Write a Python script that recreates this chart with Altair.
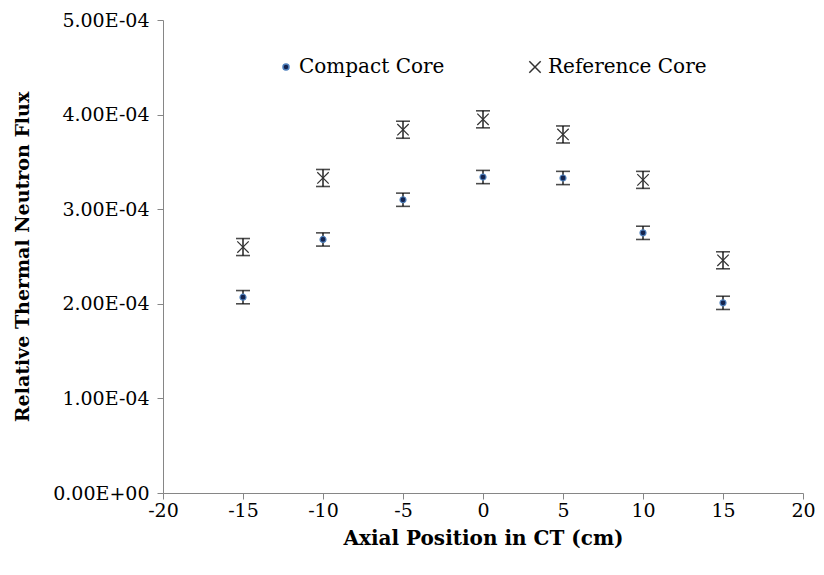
import altair as alt
import pandas as pd

positions = [-15, -10, -5, 0, 5, 10, 15]
compact = [2.07e-4, 2.68e-4, 3.10e-4, 3.34e-4, 3.33e-4, 2.75e-4, 2.01e-4]
compact_err = [0.07e-4, 0.07e-4, 0.07e-4, 0.07e-4, 0.07e-4, 0.07e-4, 0.07e-4]
reference = [2.60e-4, 3.33e-4, 3.84e-4, 3.95e-4, 3.79e-4, 3.31e-4, 2.46e-4]
reference_err = [0.09e-4, 0.09e-4, 0.09e-4, 0.09e-4, 0.09e-4, 0.09e-4, 0.09e-4]
series_names = ["Compact Core", "Reference Core"]

rows = []
for x, v, e in zip(positions, compact, compact_err):
    rows.append({"pos": x, "flux": v, "lo": v - e, "hi": v + e, "series": series_names[0]})
for x, v, e in zip(positions, reference, reference_err):
    rows.append({"pos": x, "flux": v, "lo": v - e, "hi": v + e, "series": series_names[1]})
df = pd.DataFrame(rows)

FONT = "DejaVu Serif"
AXIS_COLOR = "#868686"

xscale = alt.Scale(domain=[-20, 20], nice=False, zero=False)
yscale = alt.Scale(domain=[0, 5e-4], nice=False)

x_enc = alt.X("pos:Q", scale=xscale, title="Axial Position in CT (cm)",
              axis=alt.Axis(values=[-20, -15, -10, -5, 0, 5, 10, 15, 20], grid=False,
                            domainColor=AXIS_COLOR, tickColor=AXIS_COLOR, tickSize=6,
                            labelPadding=2, titlePadding=8, labelFlush=False,
                            labelExpr="'' + datum.value"))
y_enc = alt.Y("flux:Q", scale=yscale, title="Relative Thermal Neutron Flux",
              axis=alt.Axis(values=[0, 1e-4, 2e-4, 3e-4, 4e-4, 5e-4], grid=False,
                            domainColor=AXIS_COLOR, tickColor=AXIS_COLOR, tickSize=6,
                            labelPadding=8, titlePadding=20, titleFontSize=19, labelFlush=False,
                            labelExpr="datum.value == 0 ? '0.00E+00' : format(datum.value * 10000, '.2f') + 'E-04'"))

base = alt.Chart(df)

bars = base.mark_rule(color="#000000", strokeWidth=1.3).encode(
    x=x_enc, y="lo:Q", y2="hi:Q")
cap_lo = base.mark_tick(orient="horizontal", color="#000000", size=14, thickness=1.6).encode(
    x="pos:Q", y="lo:Q")
cap_hi = base.mark_tick(orient="horizontal", color="#000000", size=14, thickness=1.6).encode(
    x="pos:Q", y="hi:Q")

leg = alt.Legend(title=None, orient="none", direction="horizontal",
                 legendX=113, legendY=37, columnPadding=80, padding=0,
                 labelFont=FONT, labelFontSize=20, labelColor="#000000",
                 labelOffset=3)

points = base.mark_point(opacity=1, strokeWidth=1.2).encode(
    x="pos:Q",
    y=y_enc,
    shape=alt.Shape("series:N", sort=series_names,
                    scale=alt.Scale(domain=series_names, range=["circle", "M-1,-1L1,1M-1,1L1,-1"]),
                    legend=leg),
    fill=alt.Fill("series:N", sort=series_names,
                  scale=alt.Scale(domain=series_names, range=["#14244f", "transparent"]),
                  legend=leg),
    stroke=alt.Stroke("series:N", sort=series_names,
                      scale=alt.Scale(domain=series_names, range=["#4f81bd", "#333333"]),
                      legend=leg),
    size=alt.Size("series:N", sort=series_names,
                  scale=alt.Scale(domain=series_names, range=[36, 130]),
                  legend=leg),
)

chart = alt.layer(bars, cap_lo, cap_hi, points).properties(
    width=640, height=473,
    autosize=alt.AutoSizeParams(type="none"),
    padding={"left": 155, "top": 12, "right": 13, "bottom": 60},
).configure_view(stroke=None).configure_axis(
    labelFont=FONT, labelFontSize=19, labelColor="#000000",
    titleFont=FONT, titleFontSize=20, titleFontWeight="bold", titleColor="#000000",
)

chart.save("out.html", embed_options={"renderer": "svg", "actions": False})
